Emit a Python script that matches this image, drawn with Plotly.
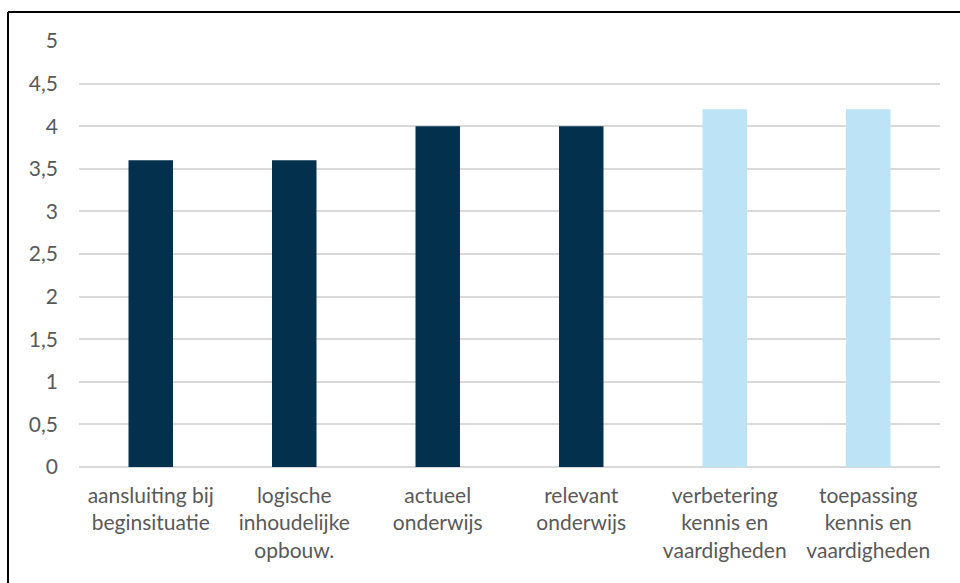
import plotly.graph_objects as go

categories = [
    "aansluiting bij<br>beginsituatie",
    "logische<br>inhoudelijke<br>opbouw.",
    "actueel<br>onderwijs",
    "relevant<br>onderwijs",
    "verbetering<br>kennis en<br>vaardigheden",
    "toepassing<br>kennis en<br>vaardigheden",
]
values = [3.6, 3.6, 4.0, 4.0, 4.2, 4.2]
bar_colors = ["#03304C", "#03304C", "#03304C", "#03304C", "#BDE3F7", "#BDE3F7"]
y_ticks = [0, 0.5, 1, 1.5, 2, 2.5, 3, 3.5, 4, 4.5, 5]

fig = go.Figure(go.Bar(x=categories, y=values, marker_color=bar_colors,
                       marker_line_width=0, width=0.31))

ml, mr, mt, mb = 79, 20, 41, 116
W, H = 960, 583
pw, ph = W - ml - mr, H - mt - mb

fig.update_layout(
    width=W, height=H,
    margin=dict(l=ml, r=mr, t=mt, b=mb, pad=0),
    plot_bgcolor="white", paper_bgcolor="white",
    separators=", ",
    font=dict(family="Lato, Open Sans, sans-serif", size=21, color="#595959"),
    showlegend=False,
    bargap=0.69,
)
fig.update_yaxes(range=[0, 5], tickvals=y_ticks, showgrid=True, gridcolor="#D9D9D9",
                 gridwidth=1.5, zeroline=True, zerolinecolor="#D9D9D9", zerolinewidth=1.5,
                 showline=False, ticks="", ticklabelstandoff=20)
fig.update_xaxes(showgrid=False, showline=False, ticks="", ticklabelstandoff=14)

x_left = (8 - ml) / pw
x_right = (W + 5 - ml) / pw
y_top = (H - mb - 12) / ph
y_bot = (H - mb - H - 5) / ph
fig.add_shape(type="line", xref="paper", yref="paper", x0=x_left, x1=x_right,
              y0=y_top, y1=y_top, line=dict(color="black", width=2))
fig.add_shape(type="line", xref="paper", yref="paper", x0=x_left, x1=x_left,
              y0=y_top, y1=y_bot, line=dict(color="black", width=2))

fig.write_html("out.html", config={"displayModeBar": False},
               post_script="document.body.style.margin='0';")
